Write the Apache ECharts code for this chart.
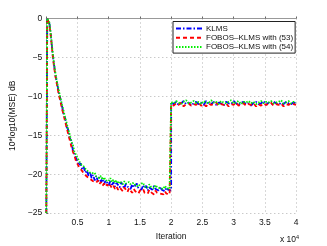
<!DOCTYPE html>
<html><head><meta charset="utf-8">
<script src="https://cdn.jsdelivr.net/npm/echarts@6/dist/echarts.min.js"></script>
<style>html,body{margin:0;padding:0;background:#fff;}#c{width:327px;height:246px;}</style>
</head><body><div id="c"></div>
<script>
const seriesNames = ['KLMS', 'FOBOS\u2013KLMS with (53)', 'FOBOS\u2013KLMS with (54)'];
const headIters = [0, 150, 350];
const phase1Start = 500, phase1Step = 250;   // 500 .. 20000
const phase2Start = 20000, phase2Step = 400; // 20000 .. 40000
const xTickValues = [0.5, 1, 1.5, 2, 2.5, 3, 3.5, 4];

const klmsHead = [-25, 0, -0.1];
const klmsPhase1 = [-0.7,-2.3,-4.5,-6.0,-7.5,-8.4,-9.6,-10.3,-11.2,-12.2,-12.8,-13.9,-14.3,-15.4,-15.7,-16.9,-17.0,-17.9,-18.0,-18.9,-18.6,-19.4,-19.1,-19.8,-19.5,-20.2,-19.7,-20.5,-20.1,-20.8,-20.2,-20.9,-20.4,-21.0,-20.6,-21.3,-20.8,-21.1,-21.4,-20.9,-21.5,-21.0,-21.6,-21.1,-21.3,-21.7,-21.0,-21.5,-21.8,-21.2,-21.6,-21.4,-21.9,-21.3,-21.7,-21.5,-21.2,-21.8,-21.6,-22.0,-21.4,-21.8,-21.5,-22.1,-21.7,-21.6,-22.0,-21.5,-21.9,-21.7,-22.1,-21.6,-22.0,-21.8,-22.2,-21.7,-22.0,-21.9,-22.1];
const klmsPhase2 = [-10.8,-11.0,-10.7,-11.1,-10.9,-10.6,-11.0,-10.8,-11.2,-10.9,-10.7,-11.0,-10.8,-11.1,-10.6,-10.9,-11.0,-10.7,-11.1,-10.8,-10.9,-11.2,-10.7,-10.9,-11.0,-10.6,-10.9,-11.1,-10.8,-10.7,-11.0,-10.9,-11.2,-10.8,-10.7,-11.0,-10.9,-10.6,-11.1,-10.8,-11.0,-10.7,-10.9,-11.1,-10.8,-11.0,-10.7,-10.9,-11.0,-10.8,-10.9];

const fobos53Head = [-25, 0, -0.1];
const fobos53Phase1 = [-0.8,-2.5,-4.6,-6.3,-7.6,-8.7,-9.8,-10.6,-11.6,-12.3,-13.2,-14.0,-14.8,-15.6,-16.4,-17.1,-17.6,-18.3,-18.5,-19.1,-19.3,-19.6,-19.9,-19.8,-20.3,-20.1,-20.6,-20.4,-20.9,-20.7,-21.1,-20.8,-21.3,-21.0,-21.5,-21.2,-21.6,-21.3,-21.7,-21.4,-21.8,-21.5,-21.9,-21.6,-22.0,-21.7,-21.8,-22.2,-21.7,-22.0,-22.3,-21.8,-22.1,-22.4,-21.9,-22.2,-22.0,-22.5,-22.1,-22.3,-21.9,-22.4,-22.2,-22.5,-22.0,-22.3,-22.2,-22.6,-22.1,-22.4,-22.2,-22.5,-22.3,-22.6,-22.2,-22.5,-22.3,-22.6,-22.4];
const fobos53Phase2 = [-11.0,-11.2,-10.9,-11.1,-10.8,-11.3,-11.0,-10.9,-11.2,-11.0,-11.1,-10.8,-11.2,-11.0,-11.3,-10.9,-11.1,-11.0,-10.8,-11.2,-11.0,-11.1,-10.9,-11.3,-11.0,-11.1,-10.8,-11.2,-11.0,-10.9,-11.2,-11.0,-11.1,-10.9,-11.3,-11.0,-11.2,-10.9,-11.1,-11.0,-10.8,-11.2,-11.0,-11.1,-10.9,-11.3,-11.0,-11.1,-10.9,-11.0,-11.1];

const fobos54Head = [-25, 0, 0];
const fobos54Phase1 = [-0.5,-2.2,-4.2,-5.9,-7.2,-8.3,-9.2,-10.2,-11.0,-11.8,-12.7,-13.4,-14.2,-14.9,-15.8,-16.2,-17.1,-17.3,-17.9,-18.1,-18.7,-18.8,-19.0,-19.3,-19.2,-19.7,-19.6,-19.9,-20.0,-19.8,-20.3,-20.1,-20.5,-20.2,-20.7,-20.4,-20.8,-20.6,-20.9,-20.5,-21.0,-20.7,-21.1,-20.8,-21.2,-20.9,-21.0,-21.3,-20.9,-21.2,-21.4,-21.0,-21.3,-21.5,-21.1,-21.4,-21.2,-21.6,-21.3,-21.5,-21.1,-21.6,-21.4,-21.7,-21.3,-21.6,-21.5,-21.8,-21.4,-21.7,-21.5,-21.8,-21.6,-21.9,-21.5,-21.8,-21.7,-21.9,-21.8];
const fobos54Phase2 = [-10.7,-10.9,-10.6,-10.8,-11.0,-10.7,-10.5,-10.9,-10.8,-10.6,-10.9,-10.7,-11.0,-10.6,-10.8,-10.9,-10.5,-10.8,-10.7,-11.0,-10.6,-10.8,-10.9,-10.7,-10.5,-10.9,-10.8,-10.6,-11.0,-10.7,-10.8,-10.6,-10.9,-10.7,-11.0,-10.8,-10.6,-10.9,-10.7,-10.8,-10.6,-10.9,-10.8,-10.7,-10.5,-10.9,-10.8,-10.6,-10.9,-10.7,-10.8];

function build(head, p1, p2) {
  const out = [];
  head.forEach((v, i) => out.push([headIters[i], v]));
  p1.forEach((v, i) => out.push([phase1Start + i * phase1Step, v]));
  p2.forEach((v, i) => out.push([phase2Start + i * phase2Step, v]));
  return out;
}

const font = 'Liberation Sans, Arial, Helvetica, sans-serif';
const chart = echarts.init(document.getElementById('c'), null, {renderer: 'canvas'});
const lineCommon = {type: 'line', showSymbol: false, symbol: 'none', animation: false, clip: true};
chart.setOption({
  animation: false,
  backgroundColor: '#fff',
  grid: {left: 42.3, right: 31, top: 18.5, bottom: 27.5, containLabel: false},
  legend: {
    orient: 'vertical', left: 173, top: 21.5, align: 'left',
    backgroundColor: '#fff', borderColor: '#222', borderWidth: 1,
    padding: [3, 2, 2, 2], itemWidth: 27, itemHeight: 8, itemGap: 1.3,
    itemStyle: {opacity: 0},
    textStyle: {fontFamily: font, fontSize: 8, color: '#111', padding: [0, 0, 0, -2]},
    data: seriesNames
  },
  xAxis: {
    type: 'value', min: 0, max: 40000, interval: 5000,
    name: 'Iteration', nameLocation: 'middle', nameGap: 11.5,
    nameTextStyle: {fontFamily: font, fontSize: 8.5, color: '#111'},
    axisLine: {show: true, lineStyle: {color: '#999', width: 1}},
    axisTick: {show: true, inside: true, length: 2, lineStyle: {color: '#666'}},
    axisLabel: {fontFamily: font, fontSize: 8.5, color: '#111', margin: 5,
      formatter: v => { const t = v / 10000; return xTickValues.indexOf(t) >= 0 ? String(t) : ''; }},
    splitLine: {show: true, lineStyle: {type: [1, 3], color: '#b0b0b0', width: 1}}
  },
  yAxis: {
    type: 'value', min: -25, max: 0, interval: 5,
    name: '10*log10(MSE) dB', nameLocation: 'middle', nameGap: 23,
    nameTextStyle: {fontFamily: font, fontSize: 8.5, color: '#111'},
    axisLine: {show: true, lineStyle: {color: '#999', width: 1}},
    axisTick: {show: true, inside: true, length: 2, lineStyle: {color: '#666'}},
    axisLabel: {fontFamily: font, fontSize: 8.5, color: '#111', margin: 4,
      formatter: v => String(v).replace('-', '\u2212')},
    splitLine: {show: true, lineStyle: {type: [1, 3], color: '#b0b0b0', width: 1}}
  },
  graphic: [{
    type: 'text', left: 280, top: 234,
    style: {
      text: '{a|x 10}{b|4}',
      rich: {
        a: {fontFamily: font, fontSize: 8.5, fill: '#111'},
        b: {fontFamily: font, fontSize: 5.5, fill: '#111', verticalAlign: 'top', padding: [0, 0, 6, 0]}
      }
    }
  }],
  series: [
    Object.assign({}, lineCommon, {name: seriesNames[0], data: build(klmsHead, klmsPhase1, klmsPhase2), z: 2,
      lineStyle: {color: '#0000ff', width: 1.8, type: [5, 2, 1.5, 2]}, itemStyle: {color: '#0000ff'}}),
    Object.assign({}, lineCommon, {name: seriesNames[1], data: build(fobos53Head, fobos53Phase1, fobos53Phase2), z: 3,
      lineStyle: {color: '#ff0000', width: 1.8, type: [4, 3]}, itemStyle: {color: '#ff0000'}}),
    Object.assign({}, lineCommon, {name: seriesNames[2], data: build(fobos54Head, fobos54Phase1, fobos54Phase2), z: 4,
      lineStyle: {color: '#00ee00', width: 1.8, type: [1.5, 1.5]}, itemStyle: {color: '#00ee00'}})
  ]
});
</script></body></html>
